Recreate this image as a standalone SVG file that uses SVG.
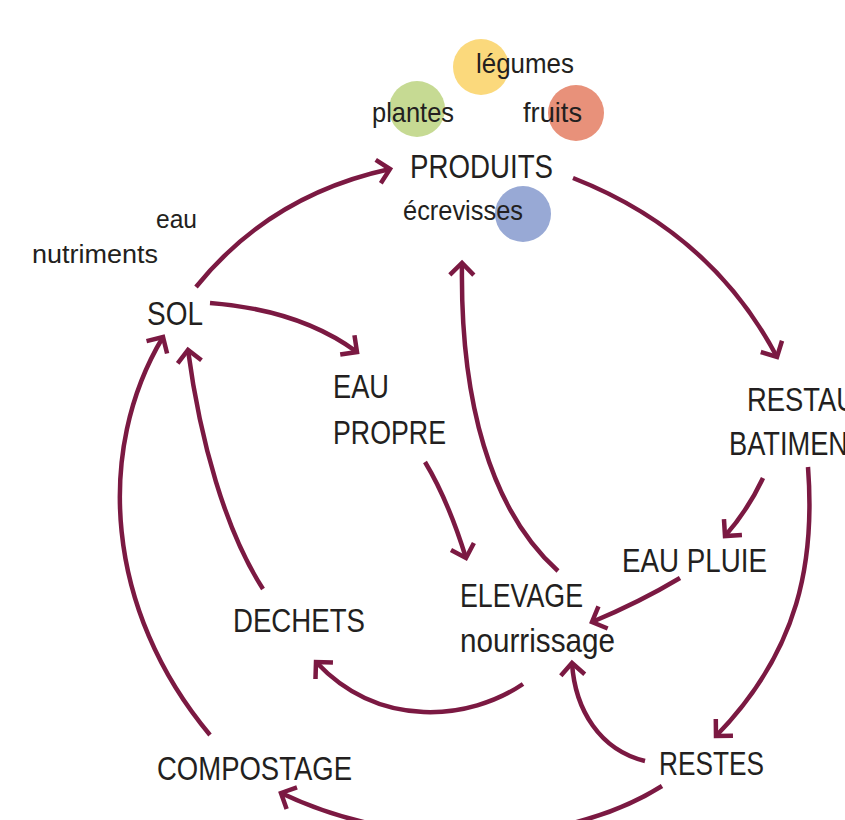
<svg xmlns="http://www.w3.org/2000/svg" width="845" height="820" viewBox="0 0 845 820">
<style>
text{font-family:"Liberation Sans",Arial,sans-serif;fill:#231f20;}
.cap{font-size:33px;}
.sm{font-size:28px;}
.conn path{fill:none;stroke:#7b1942;stroke-width:4.5;stroke-linecap:butt;}
</style>
<defs>
<marker id="ah" markerUnits="userSpaceOnUse" markerWidth="40" markerHeight="40" refX="0" refY="0" orient="auto" overflow="visible">
<path d="M-12,-12 L0,0 L-12,12" fill="none" stroke="#7b1942" stroke-width="4.5"/>
</marker>
</defs>
<rect width="845" height="820" fill="#ffffff"/>
<g id="produits">
<circle cx="481" cy="67" r="28" fill="#fbd97c"/>
<circle cx="417" cy="109" r="28" fill="#c6da93"/>
<circle cx="576" cy="113" r="28" fill="#e8917a"/>
<circle cx="523" cy="214" r="28" fill="#98a9d5"/>
<text class="sm" x="476" y="73" textLength="98" lengthAdjust="spacingAndGlyphs">légumes</text>
<text class="sm" x="372" y="122" textLength="82" lengthAdjust="spacingAndGlyphs">plantes</text>
<text class="sm" x="523" y="122" textLength="59" lengthAdjust="spacingAndGlyphs">fruits</text>
<text class="cap" x="410" y="178" textLength="143" lengthAdjust="spacingAndGlyphs">PRODUITS</text>
<text class="sm" x="403" y="220" textLength="120" lengthAdjust="spacingAndGlyphs">écrevisses</text>
</g>
<g id="sol">
<text style="font-size:26px" x="156" y="228" textLength="41" lengthAdjust="spacingAndGlyphs">eau</text>
<text style="font-size:26px" x="32" y="263" textLength="126" lengthAdjust="spacingAndGlyphs">nutriments</text>
<text class="cap" x="147" y="325" textLength="56" lengthAdjust="spacingAndGlyphs">SOL</text>
</g>
<g id="eau-propre">
<text class="cap" x="333" y="398" textLength="56" lengthAdjust="spacingAndGlyphs">EAU</text>
<text class="cap" x="333" y="444" textLength="113" lengthAdjust="spacingAndGlyphs">PROPRE</text>
</g>
<g id="restau">
<text class="cap" x="747" y="411" textLength="109" lengthAdjust="spacingAndGlyphs">RESTAU</text>
<text class="cap" x="729" y="455" textLength="119" lengthAdjust="spacingAndGlyphs">BATIMEN</text>
</g>
<g id="eau-pluie">
<text class="cap" x="622" y="572" textLength="145" lengthAdjust="spacingAndGlyphs">EAU PLUIE</text>
</g>
<g id="elevage">
<text class="cap" x="460" y="607" textLength="123" lengthAdjust="spacingAndGlyphs">ELEVAGE</text>
<text style="font-size:34px" x="460" y="652" textLength="155" lengthAdjust="spacingAndGlyphs">nourrissage</text>
</g>
<g id="dechets">
<text class="cap" x="233" y="632" textLength="132" lengthAdjust="spacingAndGlyphs">DECHETS</text>
</g>
<g id="compostage">
<text class="cap" x="157" y="780" textLength="195" lengthAdjust="spacingAndGlyphs">COMPOSTAGE</text>
</g>
<g id="restes">
<text class="cap" x="659" y="775" textLength="105" lengthAdjust="spacingAndGlyphs">RESTES</text>
</g>
<g id="connectors" class="conn">
<path d="M196,287 Q270,195 390,169" marker-end="url(#ah)"/>
<path d="M573,178 Q711,232 777,357" marker-end="url(#ah)"/>
<path d="M210,303 Q300,310 357,352" marker-end="url(#ah)"/>
<path d="M425,462 Q448,500 466,558" marker-end="url(#ah)"/>
<path d="M558,571 C490,510 460,400 462,263" marker-end="url(#ah)"/>
<path d="M763,478 Q748,510 725,536" marker-end="url(#ah)"/>
<path d="M808,467 C815,560 800,650 716,736" marker-end="url(#ah)"/>
<path d="M680,578 Q640,602 592,622" marker-end="url(#ah)"/>
<path d="M523,684 C470,720 380,730 316,662" marker-end="url(#ah)"/>
<path d="M645,761 C600,750 575,710 572,663" marker-end="url(#ah)"/>
<path d="M662,786 C560,850 400,850 281,793" marker-end="url(#ah)"/>
<path d="M263,589 C225,530 200,440 188,350" marker-end="url(#ah)"/>
<path d="M210,735 C105,610 95,450 163,337" marker-end="url(#ah)"/>
</g>
</svg>
